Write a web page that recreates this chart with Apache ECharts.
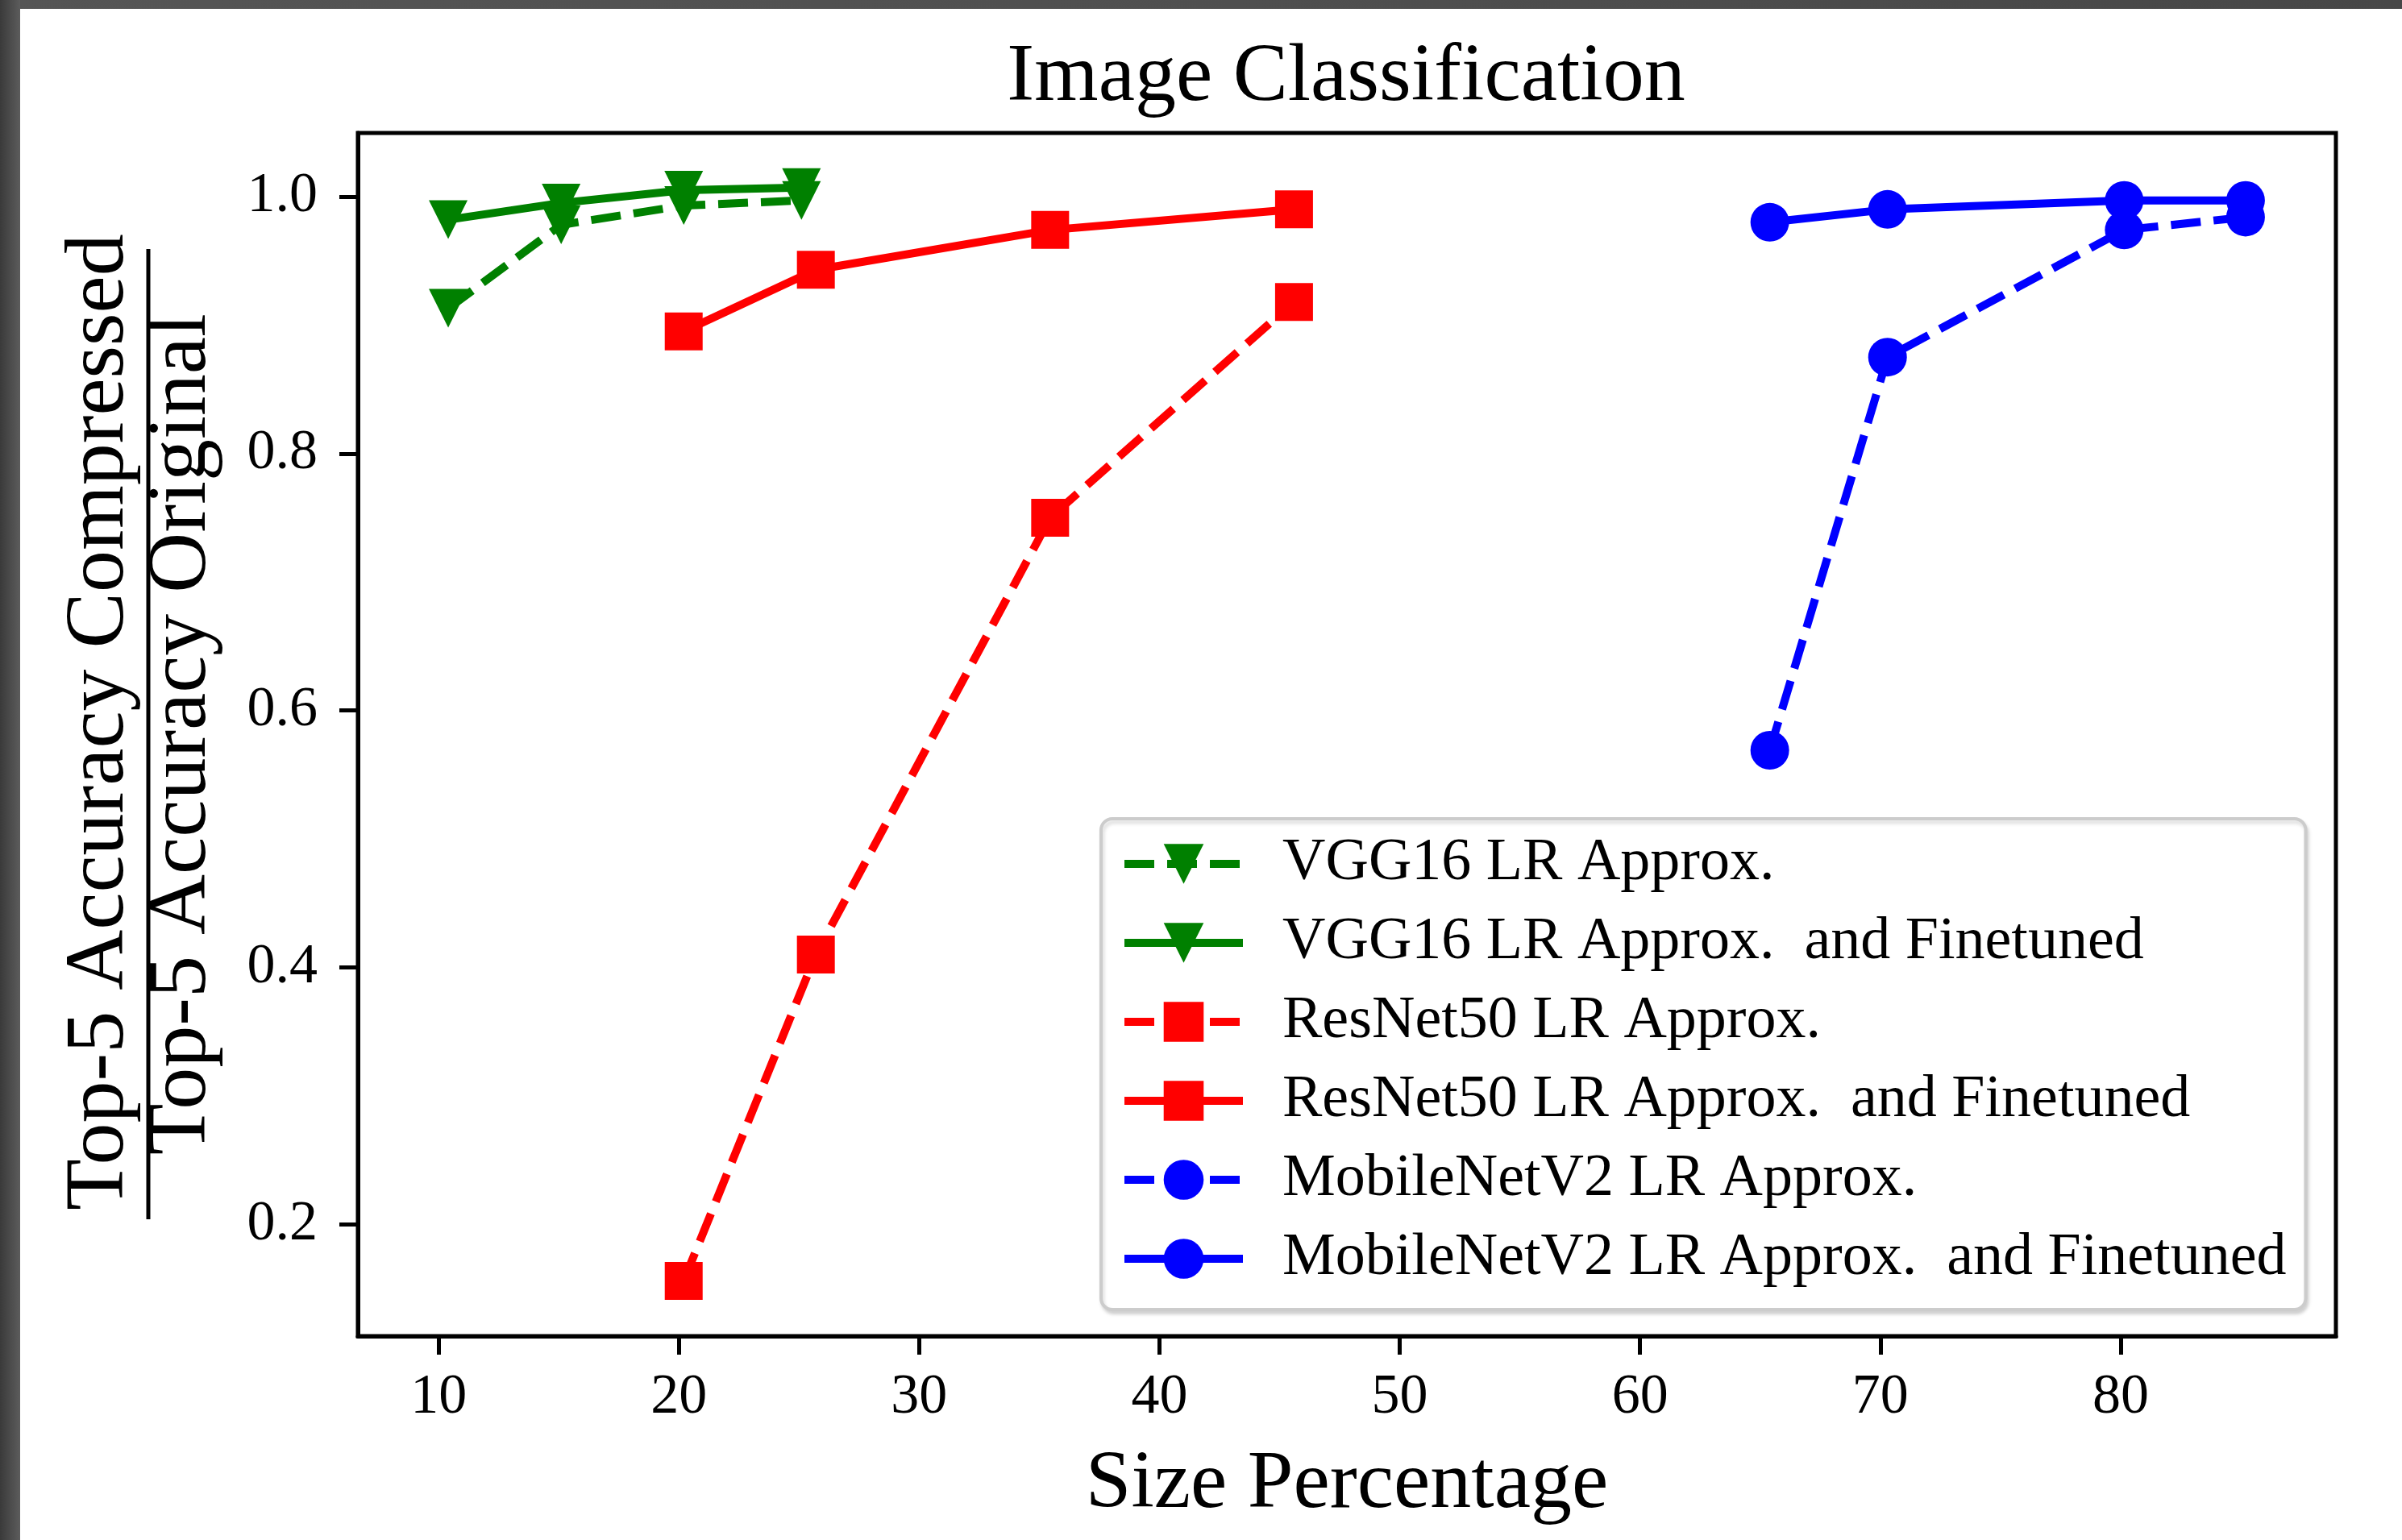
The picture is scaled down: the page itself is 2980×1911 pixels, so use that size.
<!DOCTYPE html>
<html>
<head>
<meta charset="utf-8">
<script src="https://cdn.jsdelivr.net/npm/echarts@6/dist/echarts.min.js"></script>
<style>
  html, body { margin: 0; padding: 0; background: #fff; }
  #wrap { position: relative; width: 2980px; height: 1911px; overflow: hidden; }
  #chart { position: absolute; left: 0; top: 0; width: 2980px; height: 1911px; }
  #bandTop { position: absolute; left: 0; top: 0; width: 2980px; height: 11px;
    background: linear-gradient(to right, #555555, #4e4e4e 60%, #474747); }
  #bandLeft { position: absolute; left: 0; top: 0; width: 25px; height: 1911px;
    background: linear-gradient(to right, #3a3a3a, #5c5c5c); }
</style>
</head>
<body>
<div id="wrap">
  <div id="chart"></div>
  <div id="bandTop"></div>
  <div id="bandLeft"></div>
</div>
<script>
// ---- data ----
const xTicks = [10, 20, 30, 40, 50, 60, 70, 80];
const yTicks = [0.2, 0.4, 0.6, 0.8, 1.0];

const sizeVGG = [10.4, 15.1, 20.2, 25.1];
const vggApprox = [0.913, 0.978, 0.993, 0.997];
const vggFinetuned = [0.982, 0.995, 1.005, 1.007];

const sizeResNet = [20.2, 25.7, 35.45, 45.6];
const resnetApprox = [0.156, 0.410, 0.750, 0.918];
const resnetFinetuned = [0.895, 0.943, 0.974, 0.990];

const sizeMobile = [65.4, 70.3, 80.15, 85.2];
const mobileApprox = [0.569, 0.875, 0.974, 0.984];
const mobileFinetuned = [0.980, 0.990, 0.997, 0.997];

const seriesNames = [
  'VGG16 LR Approx.',
  'VGG16 LR Approx.  and Finetuned',
  'ResNet50 LR Approx.',
  'ResNet50 LR Approx.  and Finetuned',
  'MobileNetV2 LR Approx.',
  'MobileNetV2 LR Approx.  and Finetuned'
];

const FONT = '"Liberation Serif", "Times New Roman", serif';
const DASH = [37, 16];
const LW = 10;

function pairs(xs, ys) { return xs.map((x, i) => [x, ys[i]]); }

function mk(name, xs, ys, color, symbol, size, rotate, dashed) {
  return {
    name: name,
    type: 'line',
    data: pairs(xs, ys),
    symbol: symbol,
    symbolSize: size,
    symbolRotate: rotate,
    showAllSymbol: true,
    animation: false,
    lineStyle: { color: color, width: LW, type: dashed ? DASH : 'solid', cap: 'butt', join: 'round' },
    itemStyle: { color: color, borderWidth: 0 },
    emphasis: { disabled: true }
  };
}

const chart = echarts.init(document.getElementById('chart'), null, { renderer: 'canvas' });

const option = {
  backgroundColor: '#ffffff',
  animation: false,
  title: {
    text: 'Image Classification',
    left: 1670,
    top: 46,
    textAlign: 'center',
    padding: 0,
    textStyle: { fontFamily: FONT, fontSize: 102, fontWeight: 'normal', color: '#000' }
  },
  grid: {
    left: 444, right: 82, top: 165, bottom: 253,
    show: true, borderColor: '#000', borderWidth: 5, backgroundColor: 'transparent'
  },
  xAxis: {
    type: 'value',
    min: 6.64, max: 88.96,
    name: 'Size Percentage',
    nameLocation: 'middle',
    nameGap: 134,
    nameTextStyle: { fontFamily: FONT, fontSize: 102, color: '#000' },
    axisLine: { show: true, onZero: false, lineStyle: { color: '#000', width: 5 } },
    axisTick: { show: true, inside: false, length: 23, lineStyle: { color: '#000', width: 5 }, customValues: xTicks },
    axisLabel: { show: true, margin: 42, fontFamily: FONT, fontSize: 70, color: '#000', customValues: xTicks,
      formatter: v => String(v) },
    splitLine: { show: false }
  },
  yAxis: {
    type: 'value',
    min: 0.113, max: 1.0495,
    axisLine: { show: true, onZero: false, lineStyle: { color: '#000', width: 5 } },
    axisTick: { show: true, inside: false, length: 23, lineStyle: { color: '#000', width: 5 }, customValues: yTicks },
    axisLabel: { show: true, margin: 50, fontFamily: FONT, fontSize: 70, color: '#000', customValues: yTicks,
      formatter: v => Number(v).toFixed(1) },
    splitLine: { show: false }
  },
  legend: {
    orient: 'vertical',
    left: 1366,
    top: 1016,
    padding: [19, 24, 26, 24],
    itemGap: 24,
    itemWidth: 147,
    itemHeight: 62,
    selectedMode: false,
    backgroundColor: '#ffffff',
    borderColor: '#cccccc',
    borderWidth: 4,
    borderRadius: 14,
    shadowColor: 'rgba(0,0,0,0.15)',
    shadowBlur: 4,
    shadowOffsetX: 2,
    shadowOffsetY: 4,
    lineStyle: { width: LW, type: 'inherit', cap: 'butt' },
    textStyle: { fontFamily: FONT, fontSize: 74, color: '#000', padding: [0, 0, 0, 44] },
    data: seriesNames
  },
  series: [
    mk(seriesNames[0], sizeVGG, vggApprox, '#008000', 'triangle', 48, 180, true),
    mk(seriesNames[1], sizeVGG, vggFinetuned, '#008000', 'triangle', 48, 180, false),
    mk(seriesNames[2], sizeResNet, resnetApprox, '#ff0000', 'rect', 47, 0, true),
    mk(seriesNames[3], sizeResNet, resnetFinetuned, '#ff0000', 'rect', 47, 0, false),
    mk(seriesNames[4], sizeMobile, mobileApprox, '#0000ff', 'circle', 48, 0, true),
    mk(seriesNames[5], sizeMobile, mobileFinetuned, '#0000ff', 'circle', 48, 0, false)
  ],
  graphic: [
    {
      type: 'group',
      x: 184, y: 911,
      rotation: Math.PI / 2,
      silent: true,
      children: [
        { type: 'line', shape: { x1: -602, y1: 0, x2: 602, y2: 0 }, style: { stroke: '#000', lineWidth: 5 } },
        { type: 'text', x: 15, y: -59,
          style: { text: 'Top-5 Accuracy Compressed', font: '104px ' + FONT, fill: '#000', align: 'center', verticalAlign: 'middle' } },
        { type: 'text', x: 0, y: 43,
          style: { text: 'Top-5 Accuracy Original', font: '104px ' + FONT, fill: '#000', align: 'center', verticalAlign: 'middle' } }
      ]
    }
  ]
};

chart.setOption(option);
</script>
</body>
</html>
